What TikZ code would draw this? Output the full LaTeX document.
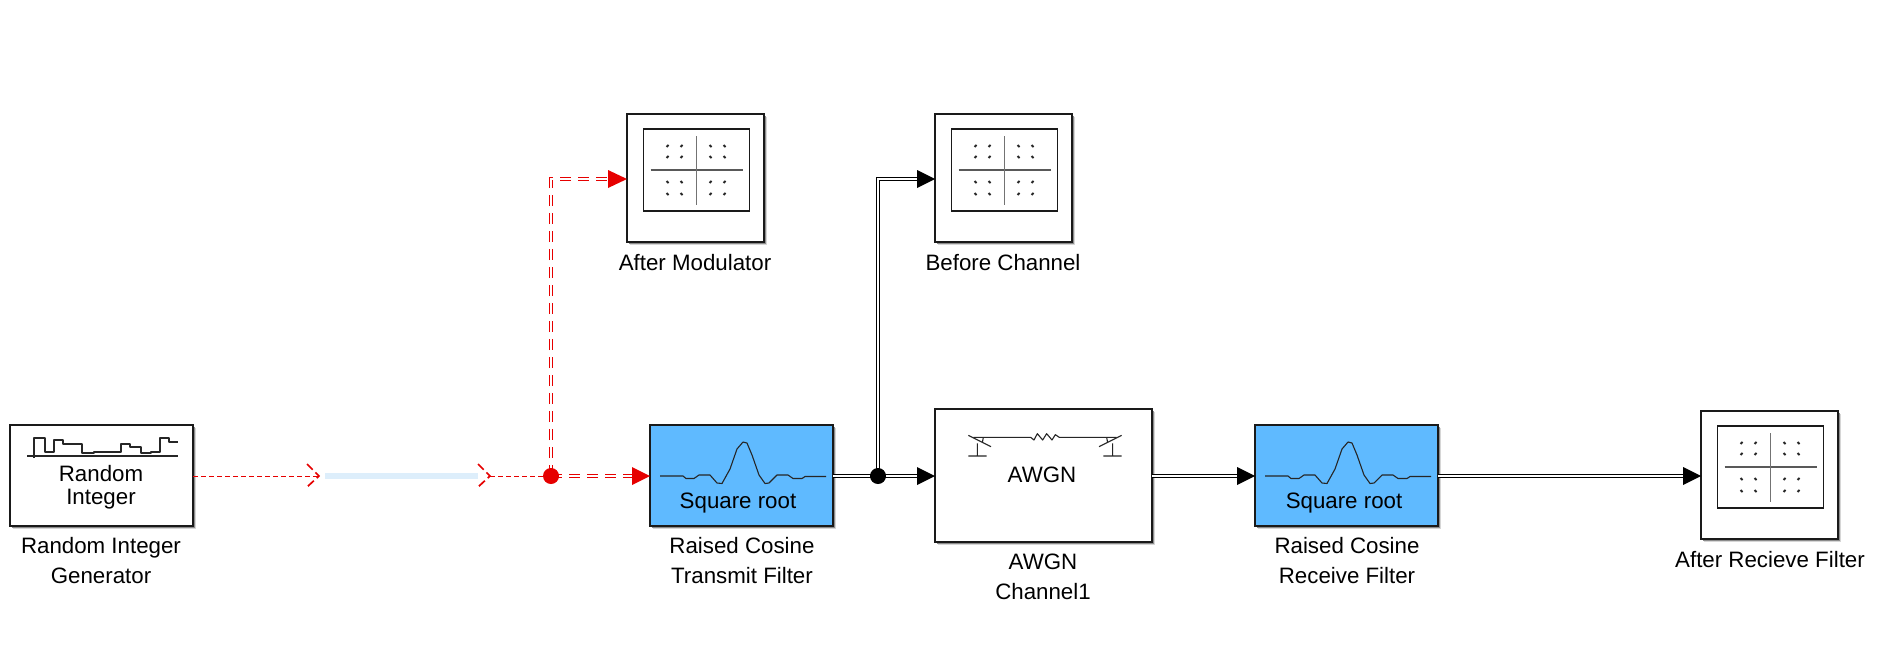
\documentclass[tikz,border=0pt]{standalone}
\usepackage{fontspec}
\setmainfont{Liberation Sans}
\usetikzlibrary{arrows.meta,shadows}
\definecolor{sigred}{HTML}{E60000}
\definecolor{blockblue}{HTML}{5FBAFF}
\definecolor{bandblue}{HTML}{DDEEFB}
\definecolor{edgeblk}{HTML}{1A1A1A}
\pgfdeclarelayer{top}
\pgfsetlayers{main,top}
\tikzset{
  x=1pt,y=-1pt,
  block/.style={draw=edgeblk,line width=1.5pt,fill=white,inner sep=0pt,outer sep=0pt,
    general shadow={shadow xshift=3.2pt,shadow yshift=-3.2pt,fill=black!16},
    general shadow={shadow xshift=1.8pt,shadow yshift=-1.8pt,fill=black!45}},
  fblock/.style={block,fill=blockblue},
  lbl/.style={font=\fontsize{22.3}{30}\selectfont,align=center,inner sep=0pt,text=black},
  inlbl/.style={font=\fontsize{22.3}{23.5}\selectfont,align=center,inner sep=0pt,text=black},
  glyph/.style={line width=1.1pt,draw=black!85,line join=round},
  thinred/.style={draw=sigred,line width=1pt,dash pattern=on 5pt off 3pt},
  chev/.style={draw=sigred,line width=1.7pt,dash pattern=on 8pt off 4pt},
  redbus/.style={draw=sigred,line width=1pt,double=white,double distance=1.1pt,dash pattern=on 11pt off 7pt},
  blkbus/.style={draw=black,line width=1pt,double=white,double distance=1.1pt},
  redtip/.style={fill=sigred,draw=none},
  blktip/.style={fill=black,draw=none},
  jct/.style={circle,minimum size=16pt,inner sep=0pt,outer sep=0pt},
}
% constellation icon: #1,#2 = top-left corner of the scope block
\newcommand{\scpicon}[2]{%
  \begin{scope}[shift={(#1,#2)}]
    \draw[line width=1.2pt,draw=edgeblk] (16.5,15) rectangle (122.5,97);
    \draw[line width=1.3pt,draw=black!65] (23.5,56) -- (115.5,56);
    \draw[line width=1.6pt,draw=black!55] (69.5,22) -- (69.5,91);
    \foreach \px in {40.5,54.5} \foreach \py in {32,43} \draw[line width=2pt,black!85] (\px-1,\py+1) -- (\px+1,\py-1);
    \foreach \px in {83.5,97.5} \foreach \py in {68,80} \draw[line width=2pt,black!85] (\px-1,\py+1) -- (\px+1,\py-1);
    \foreach \px in {83.5,97.5} \foreach \py in {32,43} \draw[line width=2pt,black!85] (\px-1,\py-1) -- (\px+1,\py+1);
    \foreach \px in {40.5,54.5} \foreach \py in {68,80} \draw[line width=2pt,black!85] (\px-1,\py-1) -- (\px+1,\py+1);
  \end{scope}}
% filter response: #1 = left edge of the block
\newcommand{\rcicon}[1]{%
  \draw[glyph,shift={(#1,425)}] (10,51) -- (33,51) -- (36,53.5) -- (44,53.5) -- (49,50) -- (60,50)
    -- (67,58) -- (72,58.5) -- (80,44) -- (87,24) -- (93,17) -- (97,18) -- (102,30) -- (109,50)
    -- (115,58.5) -- (119,58) -- (127,50) -- (138,50) -- (143,53.5) -- (152,53.5) -- (155,51.5) -- (176,51.5);}
\begin{document}
\begin{tikzpicture}
\path[use as bounding box,fill=white] (0,0) rectangle (1881,659);
% blocks
\node[block,minimum width=183pt,minimum height=101pt] (rand) at (101.5,475.5) {};
\node[fblock,minimum width=183pt,minimum height=101pt] (tx) at (741.5,475.5) {};
\node[block,minimum width=217pt,minimum height=133pt] (awgn) at (1043.5,475.5) {};
\node[fblock,minimum width=183pt,minimum height=101pt] (rx) at (1346.5,475.5) {};
\node[block,minimum width=137pt,minimum height=128pt] (sa) at (695.5,178) {};
\node[block,minimum width=137pt,minimum height=128pt] (sb) at (1003.5,178) {};
\node[block,minimum width=137pt,minimum height=128pt] (sc) at (1769.5,475) {};
% block glyphs
\scpicon{627}{114}
\scpicon{935}{114}
\scpicon{1701}{411}
\rcicon{650}
\rcicon{1255}
\draw[glyph,line width=1.1pt] (27,456) -- (178,456);
\draw[glyph] (34,458) -- (34,438) -- (45,438) -- (45,452) -- (54,452) -- (54,440) -- (63,440) -- (63,444)
  -- (82,444) -- (82,453) -- (94,453) -- (94,452) -- (121,452) -- (121,444) -- (130,444) -- (130,447)
  -- (141,447) -- (141,453) -- (151,453) -- (151,452) -- (160,452) -- (160,438) -- (169,438) -- (169,442) -- (178,442);
% channel glyph
\begin{scope}[shift={(920,390)},x=.3333pt,y=-.3333pt]
  \draw[glyph] (160,142) -- (332,142) -- (342,150) -- (352,131) -- (368,150) -- (380,131) -- (396,150) -- (406,134) -- (418,142) -- (590,142);
  \draw[glyph] (145,136) -- (213,170) (172,160) -- (172,198) (145,198) -- (200,198) (190,142) -- (187,158);
  \draw[glyph] (605,136) -- (537,170) (578,160) -- (578,198) (550,198) -- (605,198) (560,142) -- (563,158);
\end{scope}
% block texts
\node[inlbl] (t1) at (101,487) {Random\\Integer};
\node[inlbl] (t2) at (738,503) {Square root};
\node[inlbl] (t3) at (1042,475) {AWGN};
\node[inlbl] (t4) at (1344,503) {Square root};
% labels
\node[lbl] (l1) at (101,561) {Random Integer\\Generator};
\node[lbl] (l2) at (742,561) {Raised Cosine\\Transmit Filter};
\node[lbl] (l3) at (1043,577) {AWGN\\Channel1};
\node[lbl] (l4) at (1347,561) {Raised Cosine\\Receive Filter};
\node[lbl] (l5) at (695,263) {After Modulator};
\node[lbl] (l6) at (1003,263) {Before Channel};
\node[lbl] (l7) at (1770,560) {After Recieve Filter};
% junctions
\begin{pgfonlayer}{top}
\node[jct,fill=sigred] (jr) at (551,476) {};
\node[jct,fill=black] (jb) at (878,476) {};
\end{pgfonlayer}
% free ends
\coordinate (c1) at (319,476);
\coordinate (c2) at (490,476);
\coordinate (kr) at (551,179);
\coordinate (kb) at (878,179);
\coordinate (ar) at (sa.west |- kr);
\coordinate (ab) at (sb.west |- kb);
\coordinate (bar) at (608,179);
\coordinate (bab) at (917,179);
\coordinate (btx) at (632,476);
\coordinate (bawgn) at (917,476);
\coordinate (brx) at (1237,476);
\coordinate (bsc) at (1683,476);
% connectors
\fill[bandblue] (325,473) rectangle (478,478.5);
\draw[thinred] (rand.east |- c1) -- (c1);
\draw[chev] (307,464) -- (c1) -- (307,487);
\draw[chev] (478,464) -- (c2) -- (478,487);
\draw[thinred] (c2) -- (jr.center);
\draw[redbus] (jr.center) -- (btx);
\draw[redbus] (jr.center) -- (kr) -- (bar);
\draw[blkbus] (tx.east |- jb) -- (jb.center) -- (bawgn);
\draw[blkbus] (jb.center) -- (kb) -- (bab);
\draw[blkbus] (awgn.east |- brx) -- (brx);
\draw[blkbus] (rx.east |- bsc) -- (bsc);
% arrowheads
\fill[redtip] (tx.west |- btx) -- (btx |- 0,467) -- (btx |- 0,485) -- cycle;
\fill[redtip] (ar) -- (bar |- 0,170) -- (bar |- 0,188) -- cycle;
\fill[blktip] (ab) -- (bab |- 0,170) -- (bab |- 0,188) -- cycle;
\fill[blktip] (awgn.west |- bawgn) -- (bawgn |- 0,467) -- (bawgn |- 0,485) -- cycle;
\fill[blktip] (rx.west |- brx) -- (brx |- 0,467) -- (brx |- 0,485) -- cycle;
\fill[blktip] (sc.west |- bsc) -- (bsc |- 0,467) -- (bsc |- 0,485) -- cycle;
\end{tikzpicture}
\end{document}
